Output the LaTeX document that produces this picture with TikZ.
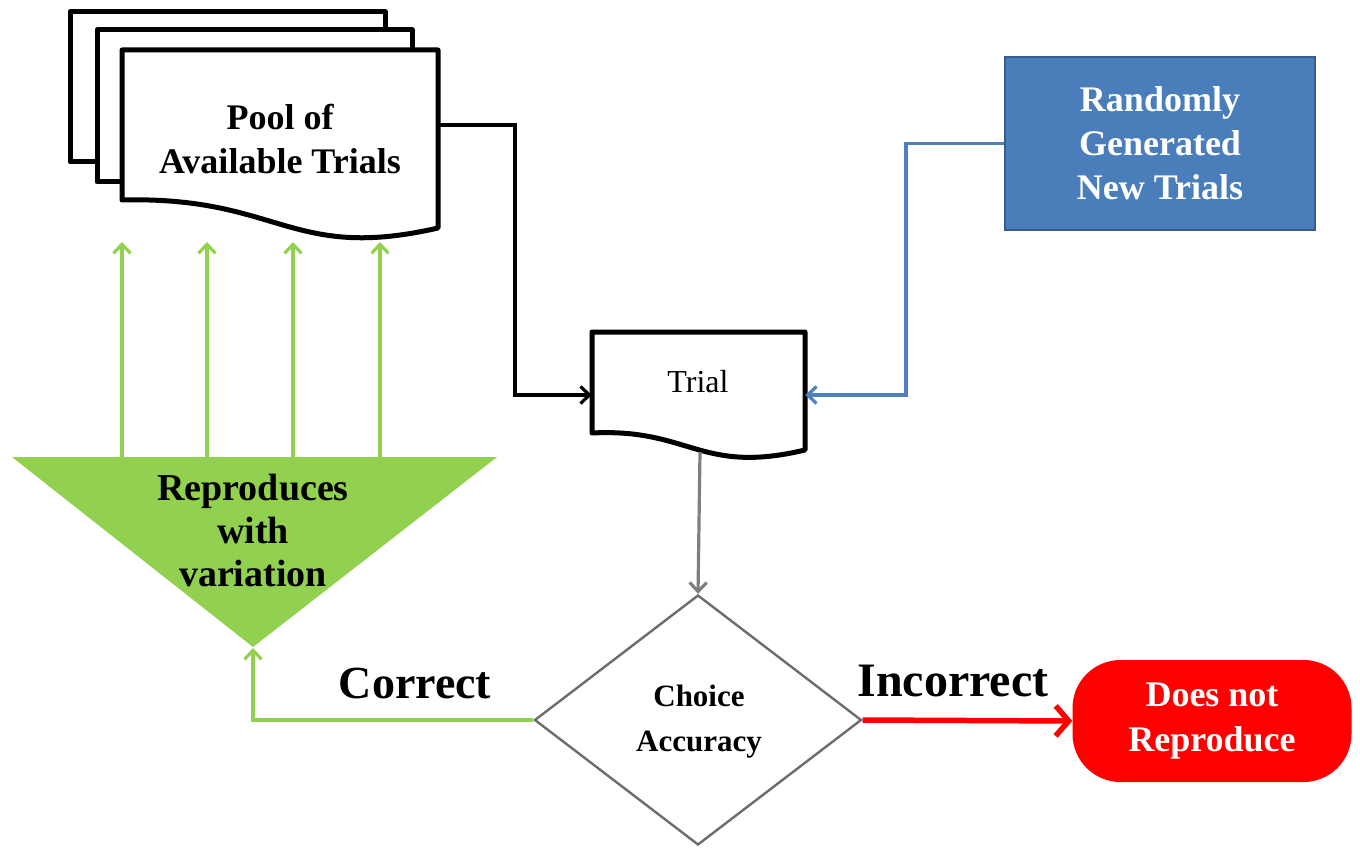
\documentclass[tikz,border=0pt]{standalone}
\usepackage{fontspec}
\setmainfont{Liberation Serif}
\usetikzlibrary{arrows.meta,shapes.geometric}
\definecolor{grn}{HTML}{92D050}
\definecolor{bluefill}{HTML}{4A7EBB}
\definecolor{blueedge}{HTML}{385D8A}
\definecolor{blueline}{HTML}{4F81BD}
\definecolor{redc}{HTML}{FF0000}
\definecolor{grayc}{HTML}{7F7F7F}
\begin{document}
\begin{tikzpicture}[x=1pt,y=-1pt,
  page/.style={draw=black, line width=5pt, fill=white, line join=round},
  conn/.style={line width=3.2pt},
  barb/.style={-{Straight Barb[length=9pt,width=17pt]}},
  bigbarb/.style={-{Straight Barb[length=13pt,width=30pt]}},
  lbl/.style={align=center, inner sep=0pt},
  holder/.style={draw=none, inner sep=0pt}
]
\useasboundingbox (0,0) rectangle (1360,850);

% stacked pages
\draw[page] (70,12) rectangle (385,162);
\draw[page] (97,30) rectangle (412,182);
\draw[page] (122,50) -- (438,50) -- (438,228)
  .. controls (290,262) and (280,196) .. (122,200) -- cycle;
\node[lbl, font=\bfseries\fontsize{36}{44}\selectfont] (pool) at (280,139) {Pool of\\Available Trials};
\coordinate (poolR) at (438,125);

% trial document
\node[holder, minimum width=213pt, minimum height=126pt] (trial) at (698.5,395) {};
\draw[page] (592,332) -- (805,332) -- (805,450)
  .. controls (700,475) and (690,428) .. (592,433) -- cycle;
\node[lbl, font=\fontsize{32}{40}\selectfont] (trialtxt) at (698,382) {Trial};
\coordinate (trialB) at (700,452);

% randomly generated
\node[draw=blueedge, line width=2pt, fill=bluefill, text=white, align=center,
  minimum width=310pt, minimum height=173pt,
  font=\bfseries\fontsize{36}{44}\selectfont] (rand) at (1160,143.5)
  {Randomly\\Generated\\New Trials};

% green triangle
\fill[grn] (12,457) -- (497,457) -- (253,647) -- cycle;
\node[lbl, font=\bfseries\fontsize{38}{43}\selectfont] (repro) at (253,530) {Reproduces\\with\\variation};
\coordinate (apex) at (253,648);

\foreach \i/\x in {1/122,2/207,3/293,4/380}{
  \coordinate (s\i) at (\x,457);
  \coordinate (t\i) at (\x,242);
  \draw[conn, grn, barb] (s\i) -- (t\i);
}

% diamond
\node[diamond, draw=grayc!85!black, line width=2.4pt, fill=white, aspect=1.3,
  minimum width=327pt, minimum height=250pt, inner sep=0pt] (choice) at (698,720) {};
\node[lbl, font=\bfseries\fontsize{31}{45}\selectfont] (choicetxt) at (699,722) {Choice\\Accuracy};

% does not reproduce
\node[fill=redc, rounded corners=48pt, minimum width=279pt, minimum height=122pt,
  text=white, align=center, font=\bfseries\fontsize{36}{45}\selectfont] (norep) at (1212,721)
  {Does not\\Reproduce};

% labels
\node[lbl, font=\bfseries\fontsize{46}{50}\selectfont] (correct) at (415,683) {Correct};
\node[lbl, font=\bfseries\fontsize{48}{50}\selectfont] (incorrect) at (953,681) {Incorrect};

% connectors
\draw[conn, black, barb] (poolR) -- ++(77,0) |- (trial.west);
\draw[conn, blueline, barb] (rand.west) -- ++(-98,0) |- (trial.east);
\draw[conn, grayc, barb] (trialB) -- (choice.north);
\draw[conn, grn, barb] (choice.west) -| (apex);
\draw[line width=5.5pt, redc, bigbarb] (choice.east) -- (norep.west);
\end{tikzpicture}
\end{document}
